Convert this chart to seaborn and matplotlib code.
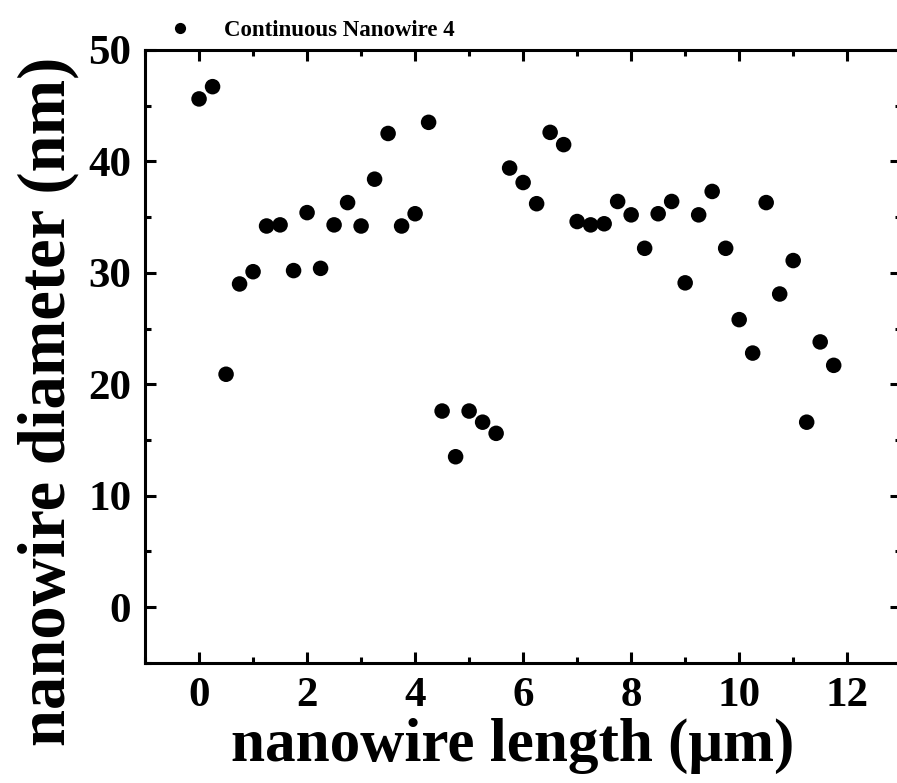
import numpy as np
import pandas as pd
import seaborn as sns
import matplotlib.pyplot as plt
from matplotlib.ticker import MultipleLocator

# 数据：长度 (um) 与直径 (nm)
length_um = [0, 0.25, 0.5, 0.75, 1.0, 1.25, 1.5, 1.75, 2.0, 2.25, 2.5, 2.75,
             3.0, 3.25, 3.5, 3.75, 4.0, 4.25, 4.5, 4.75, 5.0, 5.25, 5.5, 5.75,
             6.0, 6.25, 6.5, 6.75, 7.0, 7.25, 7.5, 7.75, 8.0, 8.25, 8.5, 8.75,
             9.0, 9.25, 9.5, 9.75, 10.0, 10.25, 10.5, 10.75, 11.0, 11.25, 11.5, 11.75]
diameter_nm = [45.6, 46.7, 20.9, 29.0, 30.1, 34.2, 34.3, 30.2, 35.4, 30.4, 34.3, 36.3,
               34.2, 38.4, 42.5, 34.2, 35.3, 43.5, 17.6, 13.5, 17.6, 16.6, 15.6, 39.4,
               38.1, 36.2, 42.6, 41.5, 34.6, 34.3, 34.4, 36.4, 35.2, 32.2, 35.3, 36.4,
               29.1, 35.2, 37.3, 32.2, 25.8, 22.8, 36.3, 28.1, 31.1, 16.6, 23.8, 21.7]
series_name = 'Continuous Nanowire 4'

df = pd.DataFrame({'length': length_um, 'diameter': diameter_nm})
df['series'] = series_name

sns.set_style('ticks')
plt.rcParams['font.family'] = ['Liberation Serif', 'DejaVu Serif']
plt.rcParams['font.weight'] = 'bold'
plt.rcParams['text.color'] = 'black'
plt.rcParams['axes.labelcolor'] = 'black'
plt.rcParams['axes.edgecolor'] = 'black'
plt.rcParams['xtick.color'] = 'black'
plt.rcParams['ytick.color'] = 'black'

fig = plt.figure(figsize=(8.97, 7.83), dpi=100)
ax = fig.add_axes([0.1617, 0.1533, 0.843, 0.783])

sns.scatterplot(data=df, x='length', y='diameter', hue='series', palette=['black'],
                s=125, edgecolor='none', ax=ax)

ax.set_xlim(-1, 13)
ax.set_ylim(-5, 50)
ax.xaxis.set_major_locator(MultipleLocator(2))
ax.xaxis.set_minor_locator(MultipleLocator(1))
ax.yaxis.set_major_locator(MultipleLocator(10))
ax.yaxis.set_minor_locator(MultipleLocator(5))

for sp in ax.spines.values():
    sp.set_visible(True)
    sp.set_linewidth(2.2)
ax.spines['right'].set_visible(False)  # 右边框在原图中被裁掉
ax.tick_params(which='both', direction='in', top=True, right=True, width=2.2)
ax.tick_params(which='major', length=8, labelsize=31, pad=10)
ax.tick_params(which='minor', length=4.5)
for lab in ax.get_xticklabels() + ax.get_yticklabels():
    lab.set_fontweight('bold')

ax.set_xlabel('nanowire length (\u03bcm)', fontsize=44, fontweight='bold')
ax.set_ylabel('nanowire diameter (nm)', fontsize=48, fontweight='bold')
ax.xaxis.set_label_coords(0.486, -0.09)
ax.yaxis.set_label_coords(-0.088, 0.426)

leg = ax.legend(loc='lower left', bbox_to_anchor=(0.004, 1.0), frameon=False,
                prop={'size': 16.5, 'weight': 'bold'}, markerscale=0.72,
                handletextpad=0.9, borderaxespad=0)

fig.savefig('out.png', dpi=100)
